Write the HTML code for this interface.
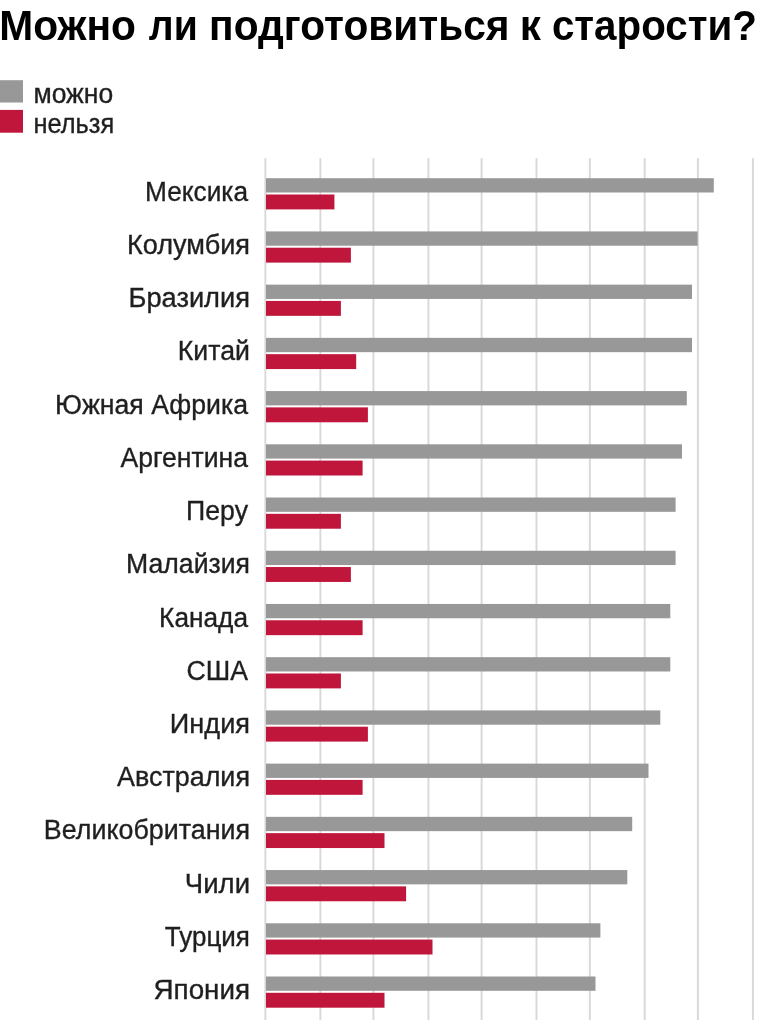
<!DOCTYPE html>
<html><head><meta charset="utf-8"><style>
html,body{margin:0;padding:0;background:#fff;width:782px;height:1020px;overflow:hidden}
svg{display:block;will-change:transform}
text{font-family:"Liberation Sans",sans-serif;fill:#1f1f1f}
.l{font-size:27px;stroke:#1f1f1f;stroke-width:0.35px}
.t{font-size:40.5px;font-weight:700;fill:#000}
.g{font-size:26.5px;stroke:#1f1f1f;stroke-width:0.35px}
</style></head><body>
<svg width="782" height="1020" viewBox="0 0 782 1020">
<g transform="translate(0 40.1) scale(1 1.05)"><text x="-0.72" y="0" textLength="136.69" lengthAdjust="spacingAndGlyphs" class="t">Можно</text><text x="148.80" y="0" textLength="48.94" lengthAdjust="spacingAndGlyphs" class="t">ли</text><text x="209.09" y="0" textLength="300.50" lengthAdjust="spacingAndGlyphs" class="t">подготовиться</text><text x="519.78" y="0" textLength="21.12" lengthAdjust="spacingAndGlyphs" class="t">к</text><text x="551.91" y="0" textLength="205.11" lengthAdjust="spacingAndGlyphs" class="t">старости?</text></g>
<rect x="0" y="80.2" width="23" height="22.3" fill="#989898"/>
<rect x="0" y="109.9" width="23" height="22.8" fill="#c0163b"/>
<text transform="translate(33.4 103.2) scale(1 1.07)" class="g" textLength="79.8" lengthAdjust="spacingAndGlyphs">можно</text>
<text transform="translate(33.4 133) scale(1 1.07)" class="g" textLength="80.8" lengthAdjust="spacingAndGlyphs">нельзя</text>
<rect x="264.42" y="158.2" width="1.9" height="862" fill="#d8d8d8"/>
<rect x="319.41" y="158.2" width="1.9" height="862" fill="#d8d8d8"/>
<rect x="372.49" y="158.2" width="1.9" height="862" fill="#d8d8d8"/>
<rect x="427.49" y="158.2" width="1.9" height="862" fill="#d8d8d8"/>
<rect x="480.65" y="158.2" width="1.9" height="862" fill="#d8d8d8"/>
<rect x="535.51" y="158.2" width="1.9" height="862" fill="#d8d8d8"/>
<rect x="588.90" y="158.2" width="1.9" height="862" fill="#d8d8d8"/>
<rect x="643.75" y="158.2" width="1.9" height="862" fill="#d8d8d8"/>
<rect x="696.95" y="158.2" width="1.9" height="862" fill="#d8d8d8"/>
<rect x="751.95" y="158.2" width="1.9" height="862" fill="#d8d8d8"/>
<rect x="266.0" y="178.20" width="447.80" height="14.3" fill="#989898"/>
<rect x="266.0" y="194.50" width="68.40" height="14.9" fill="#c0163b"/>
<rect x="266.0" y="231.42" width="431.60" height="14.3" fill="#989898"/>
<rect x="266.0" y="247.72" width="84.90" height="14.9" fill="#c0163b"/>
<rect x="266.0" y="284.64" width="426.00" height="14.3" fill="#989898"/>
<rect x="266.0" y="300.94" width="74.90" height="14.9" fill="#c0163b"/>
<rect x="266.0" y="337.86" width="426.00" height="14.3" fill="#989898"/>
<rect x="266.0" y="354.16" width="90.20" height="14.9" fill="#c0163b"/>
<rect x="266.0" y="391.08" width="420.80" height="14.3" fill="#989898"/>
<rect x="266.0" y="407.38" width="101.90" height="14.9" fill="#c0163b"/>
<rect x="266.0" y="444.30" width="416.00" height="14.3" fill="#989898"/>
<rect x="266.0" y="460.60" width="96.60" height="14.9" fill="#c0163b"/>
<rect x="266.0" y="497.52" width="409.60" height="14.3" fill="#989898"/>
<rect x="266.0" y="513.82" width="74.90" height="14.9" fill="#c0163b"/>
<rect x="266.0" y="550.74" width="409.60" height="14.3" fill="#989898"/>
<rect x="266.0" y="567.04" width="84.90" height="14.9" fill="#c0163b"/>
<rect x="266.0" y="603.96" width="404.30" height="14.3" fill="#989898"/>
<rect x="266.0" y="620.26" width="96.60" height="14.9" fill="#c0163b"/>
<rect x="266.0" y="657.18" width="404.30" height="14.3" fill="#989898"/>
<rect x="266.0" y="673.48" width="74.90" height="14.9" fill="#c0163b"/>
<rect x="266.0" y="710.40" width="394.30" height="14.3" fill="#989898"/>
<rect x="266.0" y="726.70" width="101.90" height="14.9" fill="#c0163b"/>
<rect x="266.0" y="763.62" width="382.50" height="14.3" fill="#989898"/>
<rect x="266.0" y="779.92" width="96.60" height="14.9" fill="#c0163b"/>
<rect x="266.0" y="816.84" width="366.20" height="14.3" fill="#989898"/>
<rect x="266.0" y="833.14" width="118.50" height="14.9" fill="#c0163b"/>
<rect x="266.0" y="870.06" width="361.30" height="14.3" fill="#989898"/>
<rect x="266.0" y="886.36" width="140.10" height="14.9" fill="#c0163b"/>
<rect x="266.0" y="923.28" width="334.40" height="14.3" fill="#989898"/>
<rect x="266.0" y="939.58" width="166.50" height="14.9" fill="#c0163b"/>
<rect x="266.0" y="976.50" width="329.50" height="14.3" fill="#989898"/>
<rect x="266.0" y="992.80" width="118.50" height="14.9" fill="#c0163b"/>
<text x="248.00" y="200.80" text-anchor="end" textLength="102.98" lengthAdjust="spacingAndGlyphs" class="l">Мексика</text>
<text x="250.01" y="254.02" text-anchor="end" textLength="123.05" lengthAdjust="spacingAndGlyphs" class="l">Колумбия</text>
<text x="250.02" y="307.24" text-anchor="end" textLength="121.52" lengthAdjust="spacingAndGlyphs" class="l">Бразилия</text>
<text x="249.98" y="360.46" text-anchor="end" textLength="72.14" lengthAdjust="spacingAndGlyphs" class="l">Китай</text>
<text x="248.00" y="413.68" text-anchor="end" textLength="193.01" lengthAdjust="spacingAndGlyphs" class="l">Южная Африка</text>
<text x="248.00" y="466.90" text-anchor="end" textLength="127.58" lengthAdjust="spacingAndGlyphs" class="l">Аргентина</text>
<text x="248.00" y="520.12" text-anchor="end" textLength="61.92" lengthAdjust="spacingAndGlyphs" class="l">Перу</text>
<text x="249.97" y="573.34" text-anchor="end" textLength="123.89" lengthAdjust="spacingAndGlyphs" class="l">Малайзия</text>
<text x="248.00" y="626.56" text-anchor="end" textLength="88.88" lengthAdjust="spacingAndGlyphs" class="l">Канада</text>
<text x="248.00" y="679.78" text-anchor="end" textLength="61.55" lengthAdjust="spacingAndGlyphs" class="l">США</text>
<text x="250.01" y="733.00" text-anchor="end" textLength="80.20" lengthAdjust="spacingAndGlyphs" class="l">Индия</text>
<text x="249.99" y="786.22" text-anchor="end" textLength="133.00" lengthAdjust="spacingAndGlyphs" class="l">Австралия</text>
<text x="249.99" y="839.44" text-anchor="end" textLength="206.13" lengthAdjust="spacingAndGlyphs" class="l">Великобритания</text>
<text x="250.04" y="892.66" text-anchor="end" textLength="65.20" lengthAdjust="spacingAndGlyphs" class="l">Чили</text>
<text x="249.93" y="945.88" text-anchor="end" textLength="85.07" lengthAdjust="spacingAndGlyphs" class="l">Турция</text>
<text x="250.06" y="999.10" text-anchor="end" textLength="96.56" lengthAdjust="spacingAndGlyphs" class="l">Япония</text>
</svg>
</body></html>
